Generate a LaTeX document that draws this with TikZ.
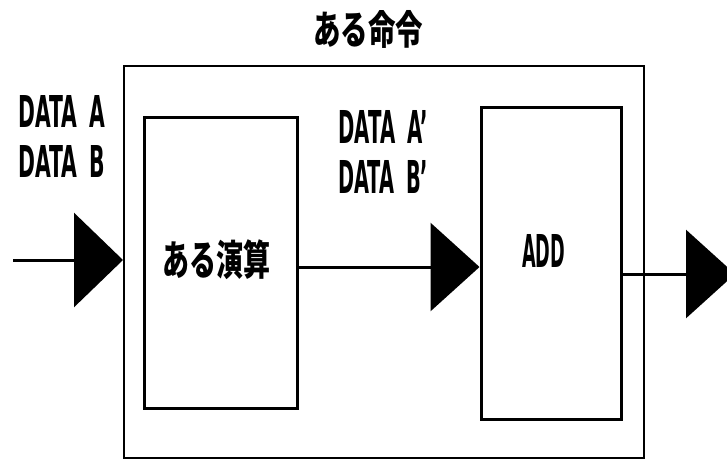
\documentclass[tikz,border=0pt]{standalone}
\usepackage{fontspec}
\setmainfont{Noto Sans CJK JP}
\newfontfamily\lat{DejaVu Sans}
\usetikzlibrary{arrows.meta}
\begin{document}
\begin{tikzpicture}[x=1pt,y=-1pt,
  box/.style={draw, line width=3pt, inner sep=0pt},
  lbl/.style={inner sep=0pt, font=\bfseries},
  flowbig/.style={line width=3pt, -{Triangle[length=49pt,width=94pt]}},
  flowmid/.style={line width=3pt, -{Triangle[length=49pt,width=88pt]}}]
\useasboundingbox (0,0) rectangle (727,459);
\clip (0,0) rectangle (727,459);
% boxes
\node[draw, line width=2pt, minimum width=520pt, minimum height=392pt, inner sep=0pt] (outer) at (384,262) {};
\node[box, minimum width=153pt, minimum height=291pt] (op) at (220.5,262.5) {};
\node[box, minimum width=140pt, minimum height=312pt] (add) at (551,263) {};
% texts
\node[lbl] (title) at (368,29) {\resizebox*{110pt}{38pt}{ある命令}};
\node[lbl] (optext) at (216,260) {\resizebox*{108pt}{40pt}{ある演算}};
\node[lbl] (addtext) at (543.5,250.5) {\resizebox*{43pt}{33pt}{\lat ADD}};
\node[lbl, anchor=west] (da) at (18,111) {\resizebox*{87pt}{32pt}{\lat DATA\hspace{0.6em}A}};
\node[lbl, anchor=west] (db) at (18,161) {\resizebox*{87pt}{32pt}{\lat DATA\hspace{0.6em}B}};
\node[lbl, anchor=west] (da2) at (338,126.5) {\resizebox*{90pt}{33pt}{\lat DATA\hspace{0.6em}A’}};
\node[lbl, anchor=west] (db2) at (338,177) {\resizebox*{90pt}{33pt}{\lat DATA\hspace{0.6em}B’}};
% connectors
\coordinate (src) at (13,260);
\draw[flowbig] (src) -- (src -| outer.west);
\coordinate (m1) at ([yshift=-4.5pt]op.east);
\draw[flowmid] (m1) -- (m1 -| add.west);
\coordinate (o1) at ([yshift=-11pt]add.east);
\coordinate (dst) at (735,274);
\draw[flowmid] (o1) -- (dst);
\end{tikzpicture}
\end{document}
